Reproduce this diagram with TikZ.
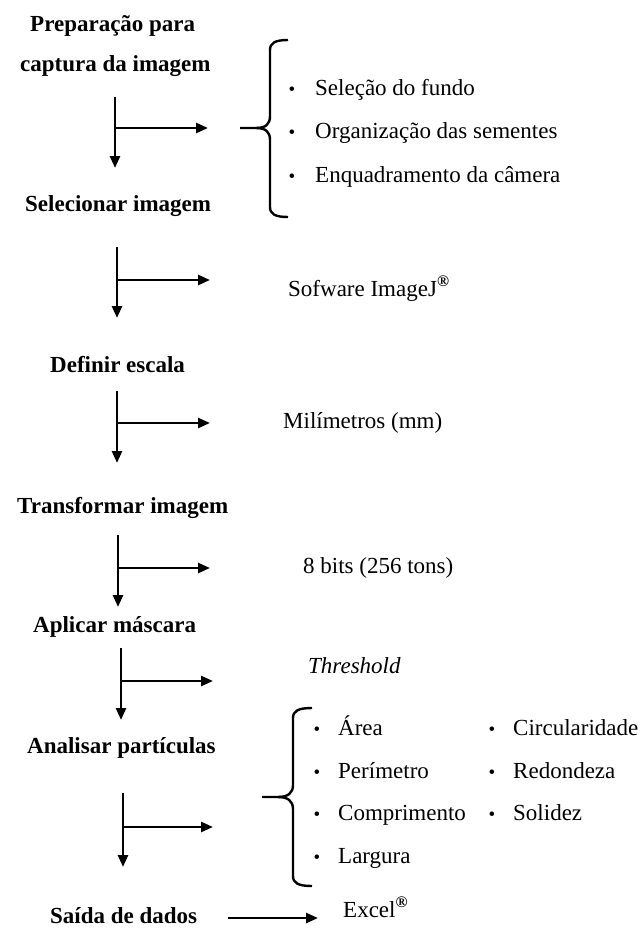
\documentclass[tikz,border=0pt]{standalone}
\usepackage{fontspec}
\setmainfont{Liberation Serif}
\usetikzlibrary{arrows.meta}

\begin{document}
\begin{tikzpicture}[x=1pt, y=-1pt,
    etapa/.style={
        font=\fontsize{23}{27}\selectfont\bfseries,
        anchor=base west,
        inner sep=0pt
    },
    item/.style={
        font=\fontsize{23}{27}\selectfont,
        anchor=base west,
        inner sep=0pt
    },
    marca/.style={
        item,
        font=\fontsize{19}{27}\selectfont,
        anchor=base
    },
    seta/.style={
        -{Triangle[length=12pt,width=10pt]},
        line width=2.6pt
    },
    chave/.style={
        line width=2.4pt
    }
]
\useasboundingbox (0,0) rectangle (643,935);

%%%%%%%%%%%%%%%%%%%%%%%%
% Etapas
%%%%%%%%%%%%%%%%%%%%%%%%

\node[etapa] (prep1) at (30,31) {Preparação para};
\node[etapa] (prep2) at (20,71) {captura da imagem};
\node[etapa] (selec) at (25,211) {Selecionar imagem};
\node[etapa] (escala) at (50,372) {Definir escala};
\node[etapa] (transf) at (17,513) {Transformar imagem};
\node[etapa] (mascara) at (33,632) {Aplicar máscara};
\node[etapa] (analise) at (27,753) {Analisar partículas};
\node[etapa] (saida) at (50,923) {Saída de dados};

%%%%%%%%%%%%%%%%%%%%%%%%
% Setas
%%%%%%%%%%%%%%%%%%%%%%%%

% --- Etapa 1 ---
\coordinate (t1) at (115,97);
\coordinate (b1) at (115,168);
\coordinate (m1) at (115,128);
\coordinate (e1) at (208,128);
\draw[seta] (t1) -- (b1);
\draw[seta] (m1) -- (e1);

% --- Etapa 2 ---
\coordinate (t2) at (117,247);
\coordinate (b2) at (117,318);
\coordinate (m2) at (117,280);
\coordinate (e2) at (210,280);
\draw[seta] (t2) -- (b2);
\draw[seta] (m2) -- (e2);

% --- Etapa 3 ---
\coordinate (t3) at (117,391);
\coordinate (b3) at (117,463);
\coordinate (m3) at (117,423);
\coordinate (e3) at (210,423);
\draw[seta] (t3) -- (b3);
\draw[seta] (m3) -- (e3);

% --- Etapa 4 ---
\coordinate (t4) at (118,535);
\coordinate (b4) at (118,607);
\coordinate (m4) at (118,568);
\coordinate (e4) at (210,568);
\draw[seta] (t4) -- (b4);
\draw[seta] (m4) -- (e4);

% --- Etapa 5 ---
\coordinate (t5) at (121,648);
\coordinate (b5) at (121,720);
\coordinate (m5) at (121,681);
\coordinate (e5) at (213,681);
\draw[seta] (t5) -- (b5);
\draw[seta] (m5) -- (e5);

% --- Etapa 6 ---
\coordinate (t6) at (123,793);
\coordinate (b6) at (123,867);
\coordinate (m6) at (123,827);
\coordinate (e6) at (213,827);
\draw[seta] (t6) -- (b6);
\draw[seta] (m6) -- (e6);

% --- Saida ---
\coordinate (m7) at (228,918);
\coordinate (e7) at (318,918);
\draw[seta] (m7) -- (e7);

%%%%%%%%%%%%%%%%%%%%%%%%
% Chaves
%%%%%%%%%%%%%%%%%%%%%%%%

\draw[chave] (240,128) -- (256,128)
    .. controls (266,128) and (270,124) .. (270,116)
    -- (270,50)
    .. controls (270,43) and (275,40) .. (288,40);
\draw[chave] (256,128)
    .. controls (266,128) and (270,132) .. (270,140)
    -- (270,207)
    .. controls (270,214) and (275,217) .. (288,217);

\draw[chave] (262,797) -- (278,797)
    .. controls (288,797) and (293,793) .. (293,785)
    -- (293,718)
    .. controls (293,711) and (298,708) .. (312,708);
\draw[chave] (278,797)
    .. controls (288,797) and (293,801) .. (293,809)
    -- (293,876)
    .. controls (293,883) and (298,886) .. (312,886);

%%%%%%%%%%%%%%%%%%%%%%%%
% Resultados
%%%%%%%%%%%%%%%%%%%%%%%%

% --- Preparacao ---
\node[marca] (p1) at (292,95) {•};
\node[marca] (p2) at (292,138) {•};
\node[marca] (p3) at (292,182) {•};
\node[item] (fundo) at (315,95) {Seleção do fundo};
\node[item] (sementes) at (315,138) {Organização das sementes};
\node[item] (camera) at (315,182) {Enquadramento da câmera};

% --- Outras etapas ---
\node[item] (software) at (288,296) {Sofware ImageJ\textsuperscript{\bfseries ®}};
\node[item] (mm) at (283,428) {Milímetros (mm)};
\node[item] (bits) at (303,573) {8 bits (256 tons)};
\node[item, font=\fontsize{23}{27}\selectfont\itshape] (thresh) at (308,673) {Threshold};

% --- Particulas ---
\node[marca] (a1) at (317,735) {•};
\node[marca] (a2) at (317,778) {•};
\node[marca] (a3) at (317,820) {•};
\node[marca] (a4) at (317,863) {•};
\node[item] (area) at (338,735) {Área};
\node[item] (perimetro) at (338,778) {Perímetro};
\node[item] (compr) at (338,820) {Comprimento};
\node[item] (largura) at (338,863) {Largura};

\node[marca] (c1) at (492,735) {•};
\node[marca] (c2) at (492,778) {•};
\node[marca] (c3) at (492,820) {•};
\node[item] (circ) at (513,735) {Circularidade};
\node[item] (redond) at (513,778) {Redondeza};
\node[item] (solidez) at (513,820) {Solidez};

% --- Saida ---
\node[item] (excel) at (343,917) {Excel\textsuperscript{\bfseries ®}};

\end{tikzpicture}
\end{document}
